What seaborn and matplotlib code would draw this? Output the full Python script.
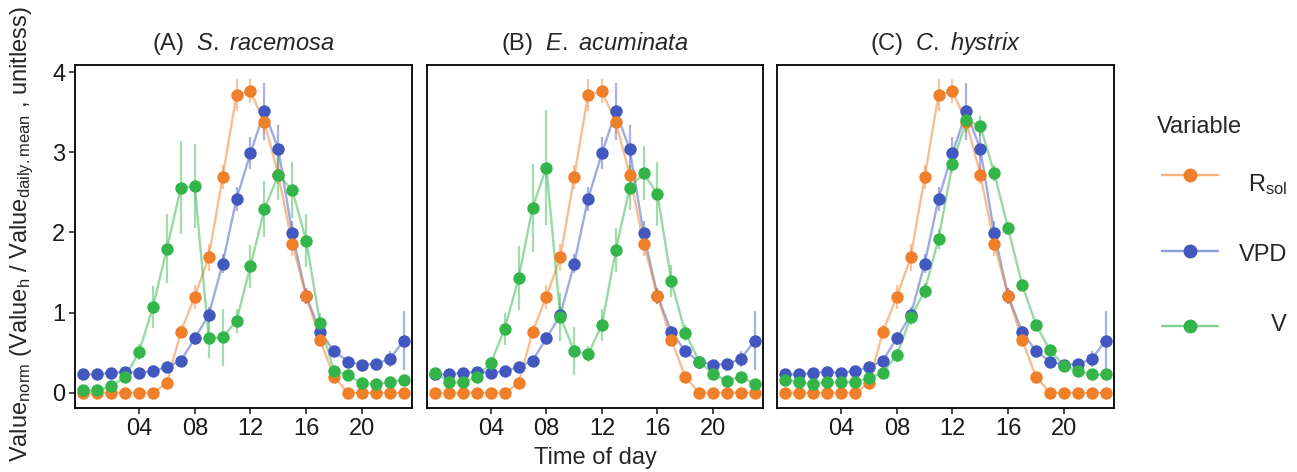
import numpy as np
import pandas as pd
import matplotlib
matplotlib.use("Agg")
import matplotlib.pyplot as plt
from matplotlib.lines import Line2D
from matplotlib.colors import to_rgba
import seaborn as sns

# --- datos ---
hours = list(range(24))

rsol = [0, 0, 0, 0, 0, 0, 0.12, 0.76, 1.20, 1.69, 2.69, 3.72, 3.76, 3.38, 2.72, 1.86,
        1.21, 0.66, 0.20, 0, 0, 0, 0, 0]
rsol_err = [0, 0, 0, 0, 0, 0, 0.03, 0.08, 0.15, 0.17, 0.15, 0.2, 0.15, 0.15, 0.12, 0.15,
            0.1, 0.08, 0.05, 0, 0, 0, 0, 0]

vpd = [0.23, 0.23, 0.25, 0.26, 0.25, 0.27, 0.32, 0.40, 0.68, 0.97, 1.61, 2.42, 2.99, 3.51,
       3.04, 1.99, 1.21, 0.76, 0.52, 0.39, 0.35, 0.36, 0.42, 0.65]
vpd_err = [0.03, 0.03, 0.03, 0.03, 0.03, 0.04, 0.05, 0.05, 0.08, 0.1, 0.12, 0.15, 0.2, 0.35,
           0.3, 0.15, 0.1, 0.07, 0.05, 0.04, 0.04, 0.05, 0.1, 0.37]

v_racemosa = [0.03, 0.03, 0.08, 0.20, 0.51, 1.07, 1.80, 2.56, 2.58, 0.68, 0.69, 0.90, 1.58,
              2.29, 2.72, 2.53, 1.90, 0.87, 0.27, 0.22, 0.12, 0.11, 0.13, 0.16]
v_racemosa_err = [0.02, 0.02, 0.04, 0.06, 0.1, 0.26, 0.43, 0.58, 0.53, 0.25, 0.35, 0.15,
                  0.27, 0.35, 0.31, 0.35, 0.33, 0.12, 0.06, 0.04, 0.03, 0.03, 0.04, 0.05]

v_acuminata = [0.25, 0.13, 0.13, 0.20, 0.37, 0.80, 1.43, 2.31, 2.81, 0.95, 0.52, 0.48, 0.85,
               1.78, 2.56, 2.74, 2.48, 1.39, 0.75, 0.39, 0.24, 0.15, 0.20, 0.11]
v_acuminata_err = [0.04, 0.04, 0.04, 0.05, 0.08, 0.2, 0.4, 0.55, 0.72, 0.3, 0.3, 0.1, 0.2,
                   0.27, 0.28, 0.34, 0.4, 0.2, 0.1, 0.06, 0.05, 0.04, 0.05, 0.04]

v_hystrix = [0.16, 0.13, 0.11, 0.13, 0.13, 0.14, 0.18, 0.25, 0.47, 0.94, 1.27, 1.92, 2.86,
             3.40, 3.33, 2.74, 2.05, 1.35, 0.85, 0.53, 0.34, 0.27, 0.23, 0.23]
v_hystrix_err = [0.03, 0.03, 0.03, 0.03, 0.03, 0.03, 0.04, 0.05, 0.08, 0.1, 0.1, 0.12, 0.12,
                 0.15, 0.12, 0.1, 0.08, 0.06, 0.05, 0.04, 0.03, 0.03, 0.03, 0.03]

species = ["S. racemosa", "E. acuminata", "C. hystrix"]
panel_tags = ["(A)", "(B)", "(C)"]
v_series = [(v_racemosa, v_racemosa_err), (v_acuminata, v_acuminata_err), (v_hystrix, v_hystrix_err)]

var_names = ["Rsol", "VPD", "V"]
var_labels = [r"R$_{\mathrm{sol}}$", "VPD", "V"]
colors = {"Rsol": "#F07F2A", "VPD": "#4258BE", "V": "#33B54A"}
draw_order = ["VPD", "Rsol", "V"]

# --- estilo ---
sns.set_style("white")
plt.rcParams["font.family"] = ["Liberation Sans", "DejaVu Sans"]
plt.rcParams["mathtext.fontset"] = "custom"
plt.rcParams["mathtext.rm"] = "Liberation Sans"
plt.rcParams["mathtext.it"] = "Liberation Sans:italic"
plt.rcParams["mathtext.bf"] = "Liberation Sans:bold"

FS = 17
fig = plt.figure(figsize=(12.97, 4.72), dpi=100)
W, H = 1297, 472
panels = [(75, 412), (427, 763), (777, 1114)]
top, bottom = 65, 408

for i, sp in enumerate(species):
    x0, x1 = panels[i]
    ax = fig.add_axes([x0 / W, 1 - bottom / H, (x1 - x0) / W, (bottom - top) / H])
    v, v_err = v_series[i]
    df = pd.DataFrame({
        "hour": hours * 3,
        "value": rsol + vpd + v,
        "err": rsol_err + vpd_err + v_err,
        "variable": ["Rsol"] * 24 + ["VPD"] * 24 + ["V"] * 24,
    })
    for var in draw_order:
        sub = df[df["variable"] == var]
        c = colors[var]
        ax.vlines(sub["hour"], sub["value"] - sub["err"], sub["value"] + sub["err"],
                  color=c, alpha=0.45, lw=1.6, zorder=2)
        sns.lineplot(data=sub, x="hour", y="value", color=c, alpha=0.5, lw=1.7,
                     ax=ax, zorder=3, legend=False)
    for var in draw_order:
        sub = df[df["variable"] == var]
        sns.scatterplot(data=sub, x="hour", y="value", color=colors[var], s=80,
                        linewidth=0, ax=ax, zorder=4, legend=False)

    ax.set_xlim(-0.6, 23.6)
    ax.set_ylim(-0.19, 4.09)
    ax.set_xticks([4, 8, 12, 16, 20])
    ax.set_xticklabels(["04", "08", "12", "16", "20"])
    ax.set_xlabel("")
    ax.set_ylabel("")
    if i == 0:
        ax.set_yticks([0, 1, 2, 3, 4])
        ax.tick_params(axis="y", left=True, length=4, width=1.1, labelsize=FS,
                       colors="#1a1a1a", pad=3)
    else:
        ax.set_yticks([])
    ax.tick_params(axis="x", bottom=True, length=4, width=1.1, labelsize=FS,
                   colors="#1a1a1a", pad=3)
    for s in ax.spines.values():
        s.set_color("black")
        s.set_linewidth(1.3)
    ax.set_title(panel_tags[i] + r"  $\mathit{" + sp.replace(" ", r"\ ") + "}$",
                 fontsize=FS, pad=11)

fig.text(595 / W, 1 - 458 / H, "Time of day", ha="center", va="center", fontsize=FS)
fig.text(22 / W, 1 - 234 / H,
         r"Value$_{\mathrm{norm}}$ (Value$_{\mathrm{h}}$ / Value$_{\mathrm{daily.mean}}$ , unitless)",
         rotation=90, ha="center", va="center", fontsize=FS)

# leyenda: símbolos con la API de legend, textos alineados a la derecha
handles = []
for var in var_names:
    c = colors[var]
    handles.append(Line2D([], [], color=to_rgba(c, 0.6), lw=1.7, marker="o", markersize=9,
                          markerfacecolor=c, markeredgecolor=c))
row_y = [183, 253, 323]
fig.legend(handles, ["", "", ""], loc="center left",
           bbox_to_anchor=(1162 / W, 1 - row_y[1] / H), frameon=False,
           fontsize=FS, labelspacing=(70 - 0.7 * FS * 100 / 72) / (FS * 100 / 72),
           handlelength=56 / (FS * 100 / 72), handletextpad=0, borderpad=0,
           borderaxespad=0)
fig.text(1157 / W, 1 - 127 / H, "Variable", ha="left", va="center", fontsize=FS)
cap = 0.716 * FS * 100 / 72
for lab, y in zip(var_labels, row_y):
    fig.text(1287 / W, 1 - (y + cap / 2) / H, lab, ha="right", va="baseline", fontsize=FS)

fig.savefig("out.png", dpi=100)
